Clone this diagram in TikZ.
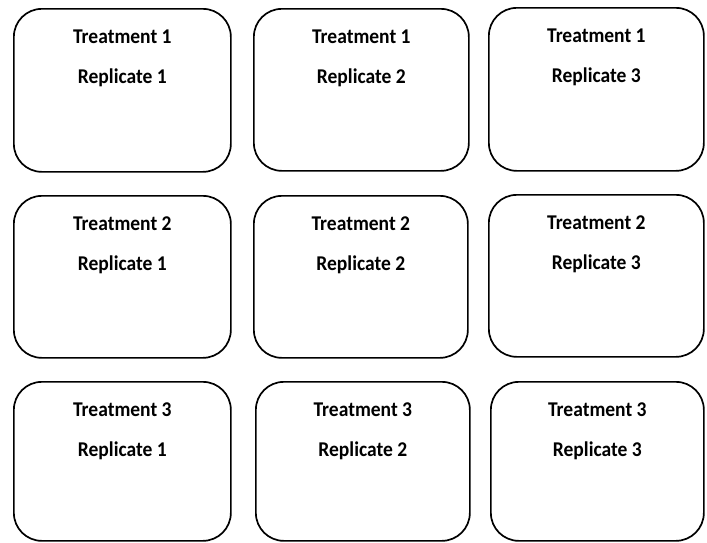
\documentclass[tikz,border=0pt]{standalone}
\usepackage{fontspec}
\setmainfont{Carlito}
\newcommand{\sq}[1]{\scalebox{0.93}[1]{#1}}
\begin{document}
\begin{tikzpicture}[x=1pt,y=-1pt,
  cell/.style={draw=black,line width=1.7pt,rounded corners=28pt,fill=white},
  lbl/.style={font=\bfseries\fontsize{21}{24}\selectfont,inner sep=0pt,anchor=center}]
\useasboundingbox (0,0) rectangle (707,542);
\fill[white] (0,0) rectangle (707,542);
% boxes: name, x1,y1,x2,y2
\foreach \n/\xa/\ya/\xb/\yb/\t/\r in {
  b11/13/8/230/171/1/1, b12/253/8/468/170/1/2, b13/488/7/703/170/1/3,
  b21/13/195/230/357/2/1, b22/253/195/467/357/2/2, b23/488/194/703/356/2/3,
  b31/13/381/230/540/3/1, b32/255/381/469/540/3/2, b33/490/381/703/540/3/3}{
  \node[cell,minimum width={\xb-\xa},minimum height={\yb-\ya},anchor=north west,inner sep=0pt] (\n) at (\xa,\ya) {};
  \node[lbl] (\n t) at ([yshift=-28.5pt]\n.north) {\sq{Treatment \t}};
  \node[lbl] (\n r) at ([yshift=-69.5pt]\n.north) {\sq{Replicate \r}};
}
\end{tikzpicture}
\end{document}
